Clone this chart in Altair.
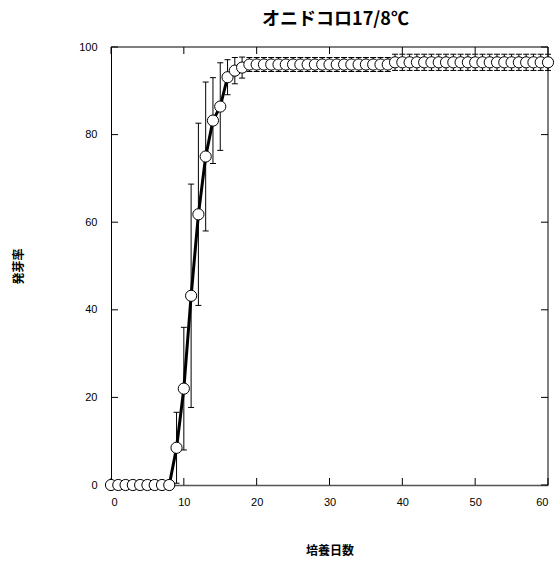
import altair as alt
import pandas as pd

# Germination over incubation days (mean and standard deviation, %)
days = list(range(61))
germination = (
    [0.0] * 9
    + [8.5, 22.0, 43.2, 61.8, 75.0, 83.2, 86.4, 93.1, 94.6, 95.3]
    + [96.0] * 20
    + [96.5] * 22
)
sd = (
    [0.0] * 9
    + [8.1, 14.0, 25.5, 20.8, 17.0, 9.8, 10.0, 4.0, 3.0, 2.4]
    + [1.6] * 20
    + [1.85] * 22
)

x_ticks = [0, 10, 20, 30, 40, 50, 60]
y_ticks = [0, 20, 40, 60, 80, 100]

W, H = 437, 438
TICK = 7
LABEL_FONT = "Liberation Sans"
CJK_FONT = "Noto Sans CJK JP"

df = pd.DataFrame({"day": days, "rate": germination, "sd": sd})
df["lo"] = (df["rate"] - df["sd"]).clip(lower=0)
df["hi"] = df["rate"] + df["sd"]
err = df[df["sd"] > 0]

x_scale = alt.Scale(domain=[0, 60], nice=False, zero=False)
y_scale = alt.Scale(domain=[0, 100], nice=False)

x_axis = alt.Axis(
    values=x_ticks, tickSize=0, labelPadding=11, grid=False,
    domainColor="#555555", domainWidth=1.5,
    labelFont=LABEL_FONT, labelFontSize=11, labelColor="black",
    title="培養日数", titleFont=CJK_FONT, titleFontSize=12,
    titleFontWeight="bold", titleColor="black",
    titleY=65, titleBaseline="middle",
)
y_axis = alt.Axis(
    values=y_ticks, tickSize=0, labelPadding=14, grid=False,
    domainColor="black", domainWidth=1,
    labelFont=LABEL_FONT, labelFontSize=11, labelColor="black",
    title="発芽率", titleFont=CJK_FONT, titleFontSize=12,
    titleFontWeight="bold", titleColor="black",
    titleAngle=-90, titleX=-93, titleY=H / 2,
    titleAlign="center", titleBaseline="middle",
)

base = alt.Chart(df)

line = base.mark_line(color="black", strokeWidth=3).encode(
    x=alt.X("day:Q", scale=x_scale, axis=x_axis),
    y=alt.Y("rate:Q", scale=y_scale, axis=y_axis),
)

bars = alt.Chart(err).mark_rule(color="black", strokeWidth=1).encode(
    x="day:Q", y="lo:Q", y2="hi:Q"
)
cap_hi = alt.Chart(err).mark_rule(
    color="black", strokeWidth=1, xOffset=-3, x2Offset=3
).encode(x="day:Q", x2="day:Q", y="hi:Q")
cap_lo = alt.Chart(err).mark_rule(
    color="black", strokeWidth=1, xOffset=-3, x2Offset=3
).encode(x="day:Q", x2="day:Q", y="lo:Q")

points = base.mark_point(
    shape="circle", filled=True, fill="white", stroke="black",
    strokeWidth=1, size=125, opacity=1,
).encode(x="day:Q", y="rate:Q")

# Box frame on the top and right sides
frame_df = pd.DataFrame({"k": [0]})
top_line = alt.Chart(frame_df).mark_rule(color="black", strokeWidth=1).encode(
    x=alt.value(0), x2=alt.value(W), y=alt.value(0)
)
right_line = alt.Chart(frame_df).mark_rule(color="black", strokeWidth=1).encode(
    x=alt.value(W), y=alt.value(0), y2=alt.value(H)
)

# Inward-pointing tick marks on all four sides
xt = pd.DataFrame({"t": x_ticks})
yt = pd.DataFrame({"t": y_ticks})
tick_bottom = alt.Chart(xt).mark_rule(color="black").encode(
    x="t:Q", y=alt.value(H), y2=alt.value(H - TICK)
)
tick_top = alt.Chart(xt).mark_rule(color="black").encode(
    x="t:Q", y=alt.value(0), y2=alt.value(TICK)
)
tick_left = alt.Chart(yt).mark_rule(color="black").encode(
    y="t:Q", x=alt.value(0), x2=alt.value(TICK)
)
tick_right = alt.Chart(yt).mark_rule(color="black").encode(
    y="t:Q", x=alt.value(W - TICK), x2=alt.value(W)
)

chart = (
    alt.layer(
        line, top_line, right_line,
        tick_bottom, tick_top, tick_left, tick_right,
        bars, cap_hi, cap_lo, points,
    )
    .properties(
        width=W, height=H,
        autosize=alt.AutoSizeParams(type="none"),
        padding={"left": 111, "top": 47, "right": 9, "bottom": 77},
        title=alt.TitleParams(
            "オニドコロ17/8℃", font=CJK_FONT, fontSize=18,
            fontWeight="bold", color="black", anchor="middle",
            offset=12, dx=6,
        ),
        background="white",
    )
    .configure_view(stroke=None)
)

chart.save("out.html", embed_options={"renderer": "svg", "actions": False})
